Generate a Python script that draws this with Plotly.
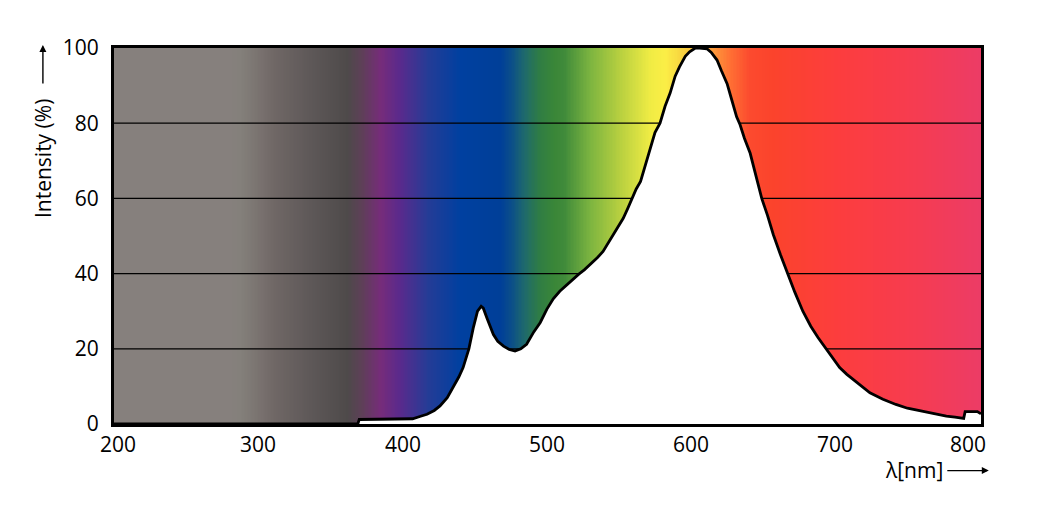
import numpy as np
import plotly.graph_objects as go

# ---------------- data ----------------
wavelength_nm = [200, 369, 370, 380, 390, 400, 407, 412, 417, 422, 426, 431, 435, 439, 442,
                 446, 449, 452, 454.5, 456, 458.5, 461, 463, 466, 470, 474, 478, 482, 486,
                 491, 495.5, 500, 504.5, 509, 514, 518, 522, 526, 530, 535, 539, 543, 546,
                 550, 553, 556, 559, 562, 565, 570, 575, 578.5, 582, 585.5, 589, 592, 596,
                 599, 603, 606, 609, 611, 614, 618, 621, 625, 628, 631.6, 634, 637, 641,
                 646, 649, 653, 657, 662, 667, 672, 677.5, 683, 688, 694, 698, 703, 708,
                 715, 724, 733, 742, 750, 760, 770, 777, 783, 789, 790, 795, 798.5, 801]
intensity_pct = [0, 0, 1.2, 1.2, 1.3, 1.3, 1.4, 2.0, 2.6, 3.6, 4.8, 7.0, 9.6, 12.5, 15.0,
                 20.0, 25.5, 30.0, 31.3, 30.8, 28.2, 25.5, 23.8, 22.0, 20.7, 19.8, 19.4, 20.0, 21.2,
                 24.5, 27.0, 30.5, 33.3, 35.3, 37.1, 38.4, 39.8, 41.0, 42.4, 44.2, 45.9, 48.5, 50.4,
                 52.8, 54.7, 57.2, 60.0, 62.5, 64.5, 71.0, 77.5, 80.0, 84.5, 88.0, 92.5, 95.0, 97.8,
                 99.0, 100, 100, 100, 99.8, 98.8, 96.8, 94.0, 90.5, 86.5, 81.7, 79.6, 76.0, 72.0,
                 64.0, 60.0, 55.5, 50.4, 45.0, 39.9, 35.0, 30.0, 26.0, 23.0, 19.8, 17.5, 15.0, 13.2,
                 11.0, 8.3, 6.6, 5.2, 4.2, 3.4, 2.6, 2.1, 1.8, 1.5, 3.3, 3.4, 3.3, 2.7]

# spectrum background colour stops (wavelength nm -> colour)
spectrum_nm = [200, 280, 287, 300, 310, 336, 362, 372, 385, 398, 418, 440, 468, 476, 485,
               495, 505, 512, 530, 551, 572, 582, 592, 605, 613, 627, 641, 657, 703, 749, 801]
spectrum_col = ["#86807d", "#86807d", "#84807b", "#7a7370", "#706866", "#5e5858", "#4e4a4a",
                "#5e3f58", "#762c7a", "#5a2a8c", "#243c96", "#0040a0", "#003f98", "#0c4f88",
                "#1f6a6a", "#2f7d44", "#3a8638", "#3f8a3a", "#7cb440", "#b8d040", "#f0ec44",
                "#fbee46", "#f8d840", "#fbb83e", "#fca23c", "#ff7034", "#fc4a2e", "#fb432c",
                "#fc3d3e", "#f73c4e", "#ec3c66"]

x_ticks = [200, 300, 400, 500, 600, 700, 800]
y_ticks = [0, 20, 40, 60, 80, 100]
y_grid = [20, 40, 60, 80]
x_range = [200, 801]
y_range = [0, 100]

FONT = "Open Sans"

# ---------------- figure ----------------
fig = go.Figure()

lo, hi = spectrum_nm[0], spectrum_nm[-1]
colorscale = [[(w - lo) / (hi - lo), c] for w, c in zip(spectrum_nm, spectrum_col)]
edges = np.arange(x_range[0], x_range[1] + 1, 1.0)
centers = (edges[:-1] + edges[1:]) / 2
fig.add_trace(go.Heatmap(
    x=edges, y=y_range, z=[centers], colorscale=colorscale,
    zmin=lo, zmax=hi, showscale=False, hoverinfo="skip"))

for g in y_grid:
    fig.add_trace(go.Scatter(x=x_range, y=[g, g], mode="lines",
                             line=dict(color="black", width=1.3),
                             hoverinfo="skip", showlegend=False))

fig.add_trace(go.Scatter(
    x=wavelength_nm, y=intensity_pct, mode="lines", fill="tozeroy",
    fillcolor="white", line=dict(color="black", width=2.8, shape="linear"),
    showlegend=False))

fig.update_xaxes(range=x_range, showgrid=False, zeroline=False, showticklabels=False,
                 ticks="", showline=True, linecolor="black", linewidth=3, mirror=True)
fig.update_yaxes(range=y_range, tickvals=y_ticks, showgrid=False, zeroline=False,
                 ticks="", showline=True, linecolor="black", linewidth=3, mirror=True,
                 ticklabelstandoff=8, tickfont=dict(family=FONT, size=21, color="black"))

ann = []
for i, t in enumerate(x_ticks):
    xs = 4 if i == 0 else (-12 if i == len(x_ticks) - 1 else 0)
    ann.append(dict(x=t, y=0, xref="x", yref="paper", text=str(t), showarrow=False,
                    xanchor="center", yanchor="top", yshift=-4, xshift=xs,
                    font=dict(family=FONT, size=21, color="black")))

# axis titles with arrows
ann.append(dict(x=-0.082, y=0.707, xref="paper", yref="paper", text="Intensity (%)",
                textangle=-90, showarrow=False, xanchor="center", yanchor="middle",
                font=dict(family=FONT, size=21, color="black")))
ann.append(dict(x=-0.082, y=1.008, xref="paper", yref="paper", text="", showarrow=True,
                ax=0, ay=40, arrowhead=2, arrowsize=1, arrowwidth=1.4, arrowcolor="black"))
ann.append(dict(x=0.923, y=-0.122, xref="paper", yref="paper", text="λ[nm]",
                xanchor="center", yanchor="middle", showarrow=False,
                font=dict(family=FONT, size=21, color="black")))
ann.append(dict(x=1.009, y=-0.124, xref="paper", yref="paper", text="", showarrow=True,
                ax=-43, ay=0, arrowhead=2, arrowsize=1, arrowwidth=1.4, arrowcolor="black"))

fig.update_layout(
    width=1037, height=517,
    margin=dict(l=106, r=64, t=40, b=101),
    paper_bgcolor="white", plot_bgcolor="white",
    showlegend=False, annotations=ann,
    font=dict(family=FONT, color="black"))

fig.write_html("out.html")
